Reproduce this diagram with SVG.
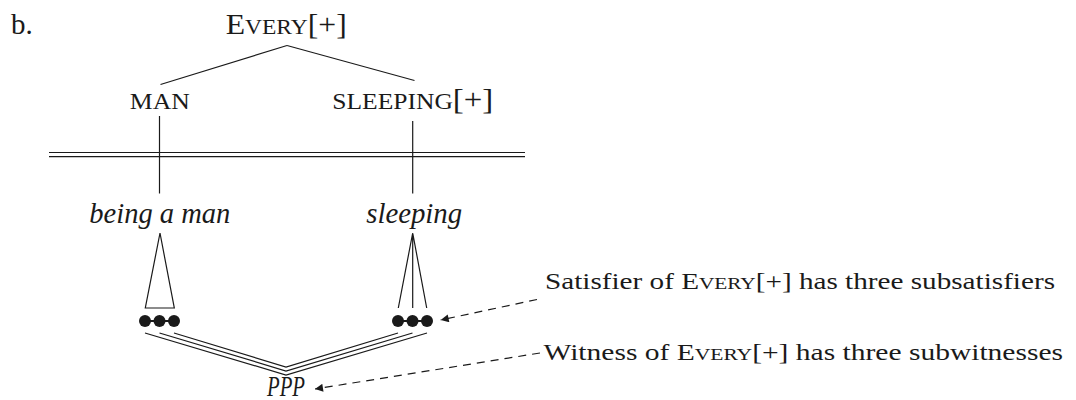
<svg xmlns="http://www.w3.org/2000/svg" width="1076" height="400" viewBox="0 0 1076 400">
<defs>
<style>
text{font-family:"Liberation Serif","Times New Roman",serif;fill:#1a1a1a}
.t{font-size:29px}
.it{font-style:italic}
.a{font-size:24px}
.ln{stroke:#1a1a1a;stroke-width:1.2;fill:none}
.dl{stroke:#1a1a1a;stroke-width:1.2;fill:none;stroke-dasharray:8 6}
</style>
<marker id="ah" viewBox="0 0 10 10" refX="10" refY="5" markerWidth="11" markerHeight="8" markerUnits="userSpaceOnUse" orient="auto">
<path d="M0,0 L10,5 L0,10 z" fill="#1a1a1a"/>
</marker>
<g id="dots3">
<line x1="0" y1="0" x2="29" y2="0" stroke="#1a1a1a" stroke-width="2"/>
<circle cx="0" cy="0" r="6" fill="#1a1a1a"/>
<circle cx="14.5" cy="0" r="6" fill="#1a1a1a"/>
<circle cx="29" cy="0" r="6" fill="#1a1a1a"/>
</g>
</defs>
<rect width="1076" height="400" fill="#fff"/>

<text id="label-b" class="t" x="11" y="34">b.</text>

<g id="node-every">
<text class="t" x="225.7" y="34" textLength="121" lengthAdjust="spacingAndGlyphs">E<tspan font-size="21.5">VERY</tspan>[+]</text>
</g>
<g id="node-man">
<text class="t" x="129.8" y="108.5" textLength="60" lengthAdjust="spacingAndGlyphs"><tspan font-size="22.5">MAN</tspan></text>
</g>
<g id="node-sleeping">
<text class="t" x="332.3" y="108.5" textLength="161" lengthAdjust="spacingAndGlyphs"><tspan font-size="22.5">SLEEPING</tspan>[+]</text>
</g>
<g id="node-being-a-man">
<text class="t it" x="89.3" y="223" textLength="141" lengthAdjust="spacingAndGlyphs">being a man</text>
</g>
<g id="node-sleeping-it">
<text class="t it" x="366.2" y="223" textLength="96" lengthAdjust="spacingAndGlyphs">sleeping</text>
</g>
<g id="node-dots-left">
<use href="#dots3" x="145" y="321"/>
</g>
<g id="node-dots-right">
<use href="#dots3" x="398" y="321"/>
</g>
<g id="node-ppp">
<text class="t it" x="267" y="396" textLength="38" lengthAdjust="spacingAndGlyphs">PPP</text>
</g>
<g id="note-satisfier">
<text class="a" x="545" y="288.5" textLength="510" lengthAdjust="spacingAndGlyphs">Satisfier of E<tspan font-size="17.5">VERY</tspan>[+] has three subsatisfiers</text>
</g>
<g id="note-witness">
<text class="a" x="543.5" y="360" textLength="519.5" lengthAdjust="spacingAndGlyphs">Witness of E<tspan font-size="17.5">VERY</tspan>[+] has three subwitnesses</text>
</g>

<g id="connectors">
<line class="ln" x1="287" y1="45.5" x2="160.5" y2="84.5"/>
<line class="ln" x1="287" y1="45.5" x2="414.5" y2="80.5"/>
<line class="ln" x1="159.5" y1="116" x2="159.5" y2="193.5"/>
<line class="ln" x1="412.7" y1="121" x2="412.7" y2="193.5"/>
<line class="ln" x1="49" y1="152.5" x2="525" y2="152.5"/>
<line class="ln" x1="49" y1="156.6" x2="525" y2="156.6"/>
<path class="ln" d="M160,233 L145.3,308 L174.3,308 Z"/>
<path class="ln" d="M398.3,308 L412.7,233 L426.7,308 M412.7,233 L412.7,308"/>
<path class="ln" d="M145,333 L286,375 L427,333"/>
<path class="ln" d="M159.5,333 L286,371 L412.5,333"/>
<path class="ln" d="M174,333 L286,367 L398,333"/>
<line class="dl" x1="537" y1="299.5" x2="440.7" y2="320" marker-end="url(#ah)"/>
<line class="dl" x1="540" y1="353" x2="315" y2="389" marker-end="url(#ah)"/>
</g>
</svg>
